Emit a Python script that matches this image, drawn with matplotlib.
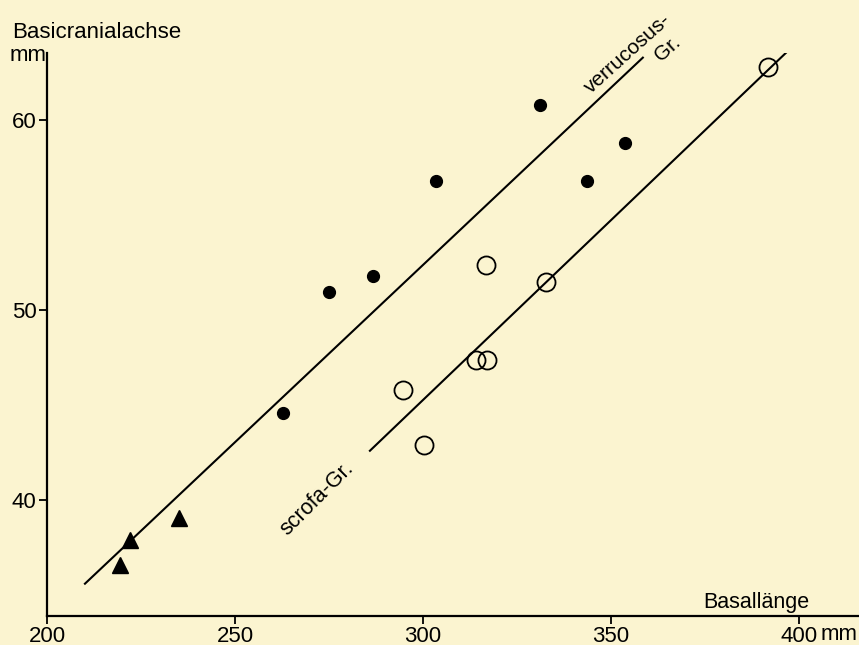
import numpy as np
import matplotlib.pyplot as plt

plt.rcParams['font.family'] = ['Liberation Sans', 'DejaVu Sans']

# verrucosus group (filled circles)
verr_x = [262.8, 275.0, 286.7, 303.5, 331.1, 343.6, 353.7]
verr_y = [44.6, 50.95, 51.8, 56.8, 60.8, 56.8, 58.8]

# scrofa group (open circles)
scrofa_x = [391.8, 316.8, 332.7, 294.7, 314.1, 317.0, 300.3]
scrofa_y = [62.8, 52.4, 51.5, 45.8, 47.4, 47.4, 42.9]

# triangles
tri_x = [219.4, 222.1, 235.1]
tri_y = [36.6, 37.9, 39.05]

# regression lines (end points)
verr_line_x = [210.1, 358.5]
verr_line_y = [35.6, 63.3]
scrofa_line_x = [285.9, 398.4]
scrofa_line_y = [42.6, 63.9]

xticks = [200, 250, 300, 350, 400]
yticks = [40, 50, 60]

bg = '#FBF4D0'
fs = 16
fig = plt.figure(figsize=(8.59, 6.45), dpi=100, facecolor=bg)
ax = fig.add_axes([0.0547, 0.045, 0.944, 0.873], facecolor=bg)

ax.plot(verr_line_x, verr_line_y, color='black', lw=1.5)
ax.plot(scrofa_line_x, scrofa_line_y, color='black', lw=1.5)

ax.plot(verr_x, verr_y, 'o', color='black', ms=8.5)
ax.plot(scrofa_x, scrofa_y, 'o', mfc='none', mec='black', mew=1.3, ms=13)
ax.plot(tri_x, tri_y, '^', color='black', ms=11.5)

ax.set_xlim(200, 415.7)
ax.set_ylim(33.9, 63.55)
ax.set_xticks(xticks)
ax.set_yticks(yticks)
ax.spines['top'].set_visible(False)
ax.spines['right'].set_visible(False)
ax.spines['left'].set_linewidth(1.6)
ax.spines['bottom'].set_linewidth(1.6)
ax.tick_params(length=6, width=1.3, labelsize=fs, pad=1.5)

# annotations
ax.text(-0.043, 1.037, 'Basicranialachse', transform=ax.transAxes, fontsize=fs,
        ha='left', va='center')
ax.text(-0.046, 0.995, 'mm', transform=ax.transAxes, fontsize=fs, ha='left', va='center')
ax.text(388.8, 34.62, 'Basallänge', fontsize=15.5, ha='center', va='center')
ax.text(405.8, 32.95, 'mm', fontsize=fs, ha='left', va='center', clip_on=False)

ax.text(354.6, 63.5, 'verrucosus-', fontsize=15, rotation=42, ha='center', va='center')
ax.text(365.2, 63.75, 'Gr.', fontsize=15, rotation=42, ha='center', va='center')
ax.text(271.8, 40.1, 'scrofa-Gr.', fontsize=15.5, rotation=45, ha='center', va='center')

fig.savefig('out.png', dpi=100, facecolor=bg)
